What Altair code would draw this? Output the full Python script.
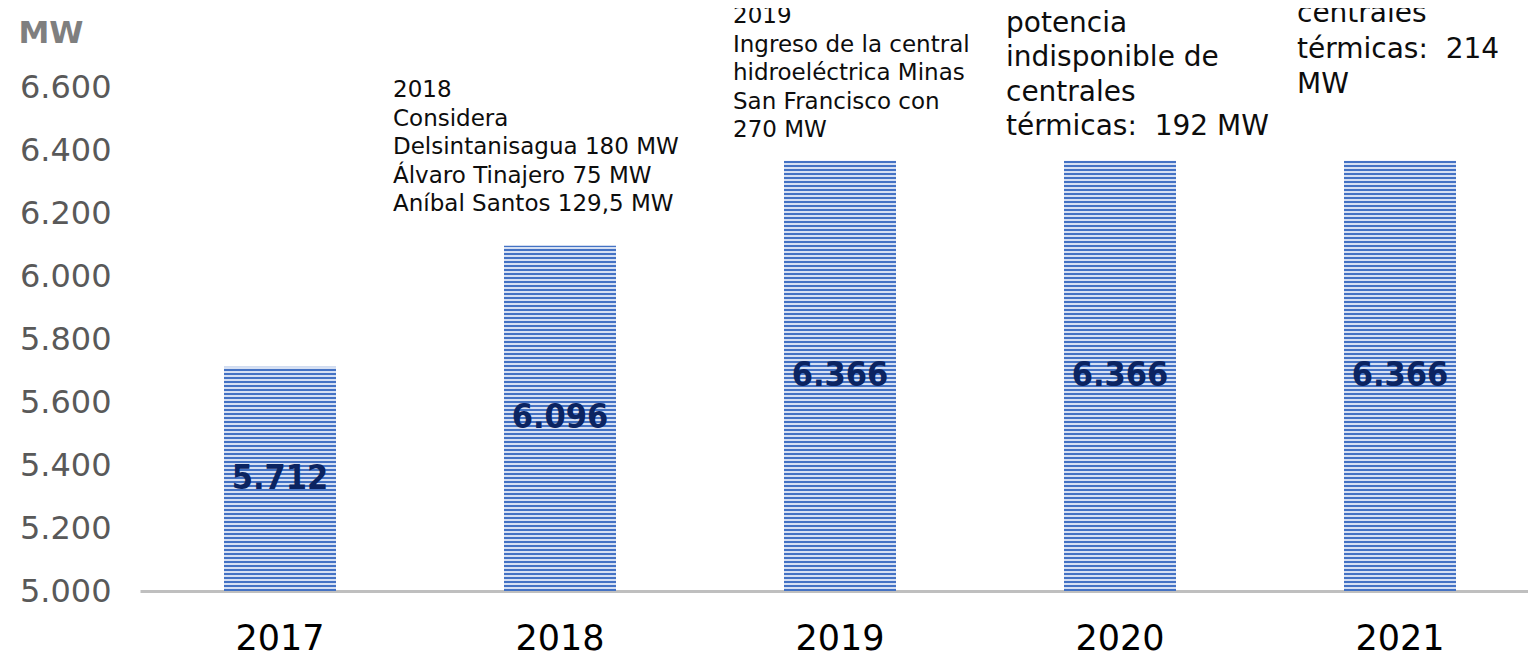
import altair as alt
import pandas as pd

# ---------------- data ----------------
years = ["2017", "2018", "2019", "2020", "2021"]
capacity = [5712, 6096, 6366, 6366, 6366]
y_ticks = [5000, 5200, 5400, 5600, 5800, 6000, 6200, 6400, 6600]

ann_years = ["2018", "2019", "2020", "2021"]
ann_text = [
    ["2018", "Considera", "Delsintanisagua 180 MW", "Álvaro Tinajero 75 MW", "Aníbal Santos 129,5 MW"],
    ["\u00a02019", "Ingreso de la central", "hidroeléctrica Minas", "San Francisco con", "270 MW"],
    ["potencia", "indisponible de", "centrales", "térmicas:\u00a0 192 MW"],
    ["centrales", "térmicas:\u00a0 214", "MW"],
]
ann_y = [6568, 6803, 6775, 6806]

# ---------------- layout / style ----------------
Y_MIN, Y_MAX = 5000, 6851
PLOT_H = 583
PLOT_W = 1388
FONT = "DejaVu Sans"
DARK = "#4472C4"
LIGHT = "#d6e0f3"
PERIOD = 4.0
ann_dx = [-167, -107, -114, -103]
ann_size = [23, 23, 28, 28]
ann_lh = [28.5, 28.5, 34.5, 35.5]

df = pd.DataFrame({"year": years, "value": capacity})

x_enc = alt.X(
    "year:N",
    sort=years,
    scale=alt.Scale(range=[0, 1400], paddingInner=0.6, paddingOuter=0.3),
    axis=alt.Axis(
        title=None, labelAngle=0, labelFont=FONT, labelFontSize=35, labelColor="#000000",
        domainColor="#bfbfbf", domainWidth=3, ticks=False, tickSize=0,
        labelPadding=58, labelBaseline="alphabetic",
    ),
)
y_scale = alt.Scale(domain=[Y_MIN, Y_MAX], zero=False, nice=False)
y_axis = alt.Axis(
    title="MW", titleAngle=0, titleX=-122, titleY=34, titleAlign="left",
    titleBaseline="alphabetic", titleFont=FONT, titleFontSize=31, titleFontWeight="bold",
    titleColor="#7f7f7f", values=y_ticks, grid=False, domain=False, ticks=False, tickSize=0,
    labelPadding=29, labelFont=FONT, labelFontSize=32, labelColor="#595959",
    labelExpr="replace(format(datum.value, ',d'), ',', '.')",
)

px_per_unit = PLOT_H / (Y_MAX - Y_MIN)


def stripes(h):
    """Horizontal stripes anchored at the bar's bottom, exactly PERIOD px apart."""
    segs = []
    p = 0.0
    dark = True
    while p < h:
        p1 = min(h, p + PERIOD / 2)
        segs.append((p, p1, DARK if dark else LIGHT))
        dark = not dark
        p = p1
    stops = []
    for p0, p1, c in reversed(segs):
        stops.append(alt.GradientStop(offset=max(0.0, 1 - p1 / h), color=c))
        stops.append(alt.GradientStop(offset=min(1.0, 1 - p0 / h), color=c))
    return stops


layers = []
for yr, v in zip(years, capacity):
    h = (v - Y_MIN) * px_per_unit
    grad = alt.Gradient(gradient="linear", stops=stripes(h), x1=0, x2=0, y1=0, y2=1)
    layers.append(
        alt.Chart(df)
        .transform_filter(alt.datum.year == yr)
        .mark_bar(color=grad)
        .encode(
            x=x_enc,
            y=alt.Y("value:Q", scale=y_scale, axis=y_axis),
            y2=alt.datum(Y_MIN),
        )
    )

labels = (
    alt.Chart(df)
    .transform_calculate(
        mid=f"(datum.value + {Y_MIN}) / 2",
        label="replace(format(datum.value, ',d'), ',', '.')",
    )
    .mark_text(font="DejaVu Sans Condensed", fontWeight="bold", fontSize=34,
               color="#0b2461", baseline="middle", align="center")
    .encode(x=x_enc, y=alt.Y("mid:Q", scale=y_scale, axis=y_axis), text="label:N")
)
layers.append(labels)

for yr, lines, yv, dx, fs, lh in zip(ann_years, ann_text, ann_y, ann_dx, ann_size, ann_lh):
    adf = pd.DataFrame({"year": [yr], "ay": [yv], "txt": ["\n".join(lines)]})
    layers.append(
        alt.Chart(adf)
        .mark_text(font=FONT, fontSize=fs, lineHeight=lh, lineBreak="\n", align="left",
                   baseline="alphabetic", dx=dx, color="#0d0d0d")
        .encode(x=x_enc, y=alt.Y("ay:Q", scale=y_scale, axis=y_axis), text="txt:N")
    )

chart = (
    alt.layer(*layers)
    .properties(
        width=PLOT_W, height=PLOT_H,
        autosize=alt.AutoSizeParams(type="none"),
        padding={"left": 132, "top": 0, "right": 0, "bottom": 61},
        background="white",
    )
    .configure_view(stroke=None)
)

chart.save("out.html", embed_options={"renderer": "svg", "actions": False})
